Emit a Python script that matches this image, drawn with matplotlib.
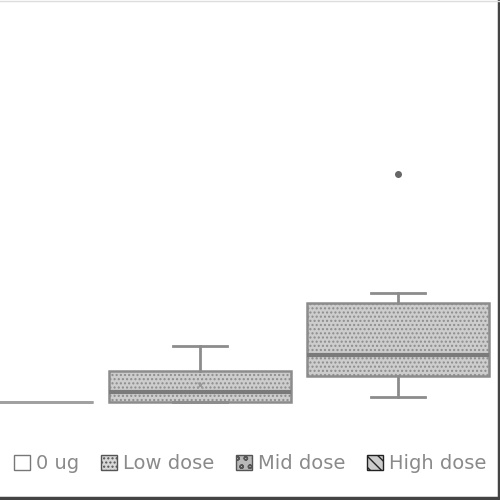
import matplotlib
matplotlib.use("Agg")
import matplotlib.pyplot as plt
from matplotlib.patches import Patch
from matplotlib.lines import Line2D

# box statistics per dose group (arbitrary response units)
groups = ["0 ug", "Low dose", "High dose"]
whislo = [0.0, 0.0, 2.2]
q1 = [0.0, 0.0, 11.4]
med = [0.0, 4.4, 20.6]
q3 = [0.0, 13.6, 43.4]
whishi = [0.0, 24.6, 47.8]
means = [0.0, 7.5, None]
fliers = [[], [], [100.0]]

legend_labels = ["0 ug", "Low dose", "Mid dose", "High dose"]

plt.rcParams["hatch.color"] = "#8f8f8f"

fig = plt.figure(figsize=(5, 5), dpi=100)
ax = fig.add_axes([0.0, 0.14, 1.0, 0.86])

stats = []
for i, name in enumerate(groups):
    stats.append({
        "label": name,
        "whislo": whislo[i],
        "q1": q1[i],
        "med": med[i],
        "q3": q3[i],
        "whishi": whishi[i],
        "fliers": fliers[i],
    })

gray = "#8c8c8c"
bp = ax.bxp(
    stats,
    positions=range(len(groups)),
    widths=0.915,
    patch_artist=True,
    showfliers=True,
    boxprops=dict(facecolor="#cdcdcd", edgecolor=gray, linewidth=1.8, hatch="...."),
    medianprops=dict(color="#7a7a7a", linewidth=3),
    whiskerprops=dict(color=gray, linewidth=2),
    capprops=dict(color=gray, linewidth=2),
    capwidths=0.27,
    flierprops=dict(marker="o", markersize=4, markerfacecolor="#666666", markeredgecolor="#666666"),
)
# the flat 0 ug group has no visible caps
for cap in bp["caps"][:2]:
    cap.set_visible(False)
bp["boxes"][0].set_edgecolor("#a0a0a0")
bp["medians"][0].set_color("#a0a0a0")
bp["medians"][0].set_linewidth(2)

# mean markers
for i, m in enumerate(means):
    if m is not None and i > 0:
        ax.plot(i, m, marker="x", color="#9a9a9a", markersize=5, mew=1)

ax.set_xlim(-0.0101, 2.515)
ax.set_ylim(-12.3, 176.3)
ax.axis("off")

# legend along the bottom
handles = [
    Patch(facecolor="white", edgecolor="#777777", label=legend_labels[0]),
    Patch(facecolor="#d8d8d8", edgecolor="#555555", hatch="....", label=legend_labels[1]),
    Patch(facecolor="#b8b8b8", edgecolor="#555555", hatch="oo", label=legend_labels[2]),
    Patch(facecolor="#cccccc", edgecolor="#222222", hatch="\\\\\\", label=legend_labels[3]),
]
fig.legend(
    handles=handles,
    loc="center",
    bbox_to_anchor=(0.5, 0.073),
    ncol=4,
    frameon=False,
    fontsize=14,
    labelcolor="#8a8a8a",
    handlelength=0.85,
    handleheight=0.85,
    handletextpad=0.3,
    columnspacing=1.1,
)

# chart-area border visible on the right and bottom edges
fig.add_artist(Line2D([0.997, 0.997], [0.0, 1.0], color="#444444", linewidth=2.5, transform=fig.transFigure))
fig.add_artist(Line2D([0.0, 1.0], [0.005, 0.005], color="#444444", linewidth=2.5, transform=fig.transFigure))
fig.add_artist(Line2D([0.0, 1.0], [0.998, 0.998], color="#dddddd", linewidth=1, transform=fig.transFigure))

fig.savefig("out.png", dpi=100)
